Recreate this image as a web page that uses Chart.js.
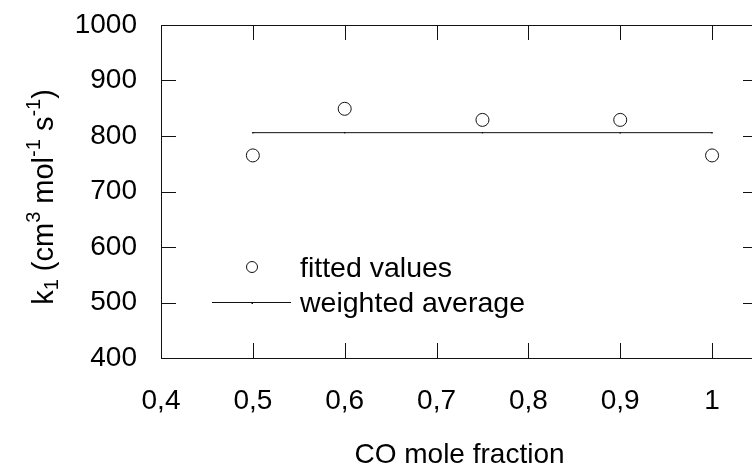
<!DOCTYPE html>
<html>
<head>
<meta charset="utf-8">
<script src="https://cdn.jsdelivr.net/npm/chart.js@4/dist/chart.umd.min.js"></script>
<style>
  html, body { margin: 0; padding: 0; background: #fff; overflow: hidden; }
  #wrap { position: absolute; left: 0; top: 0; width: 800px; height: 469px; }
</style>
</head>
<body>
<div id="wrap"><canvas id="kChart" width="800" height="469"></canvas></div>
<script>
// CO mole fraction of each fitted run
var moleFraction = [0.5, 0.6, 0.75, 0.9, 1.0];
// fitted k1 values (cm3 mol-1 s-1)
var fittedValues = [765, 849, 829, 829, 765];
// weighted average over all runs
var weightedAverage = [806, 806, 806, 806, 806];

var xTicks = [0.4, 0.5, 0.6, 0.7, 0.8, 0.9, 1.0];
var xTickLabels = ['0,4', '0,5', '0,6', '0,7', '0,8', '0,9', '1'];
var yTicks = [400, 500, 600, 700, 800, 900, 1000];

var FONT = '"Liberation Sans", Arial, sans-serif';
var INK = '#111';

function toPoints(xs, ys) {
    return xs.map(function(x, i) { return { x: x, y: ys[i] }; });
}

// frame with inward tick marks on all four sides
var framePlugin = {
    id: 'frame',
    beforeDatasetsDraw: function(chart) {
        var c = chart.ctx, a = chart.chartArea;
        var xs = chart.scales.x, ys = chart.scales.y;
        var len = 15;
        c.save();
        c.strokeStyle = INK;
        c.lineWidth = 1;
        c.beginPath();
        c.rect(Math.round(a.left) + 0.5, Math.round(a.top) + 0.5,
               Math.round(a.right - a.left), Math.round(a.bottom - a.top));
        xTicks.forEach(function(v) {
            var px = Math.round(xs.getPixelForValue(v)) + 0.5;
            c.moveTo(px, a.top); c.lineTo(px, a.top + len);
            c.moveTo(px, a.bottom); c.lineTo(px, a.bottom - len);
        });
        yTicks.forEach(function(v) {
            var py = Math.round(ys.getPixelForValue(v)) + 0.5;
            c.moveTo(a.left, py); c.lineTo(a.left + len, py);
            c.moveTo(a.right, py); c.lineTo(a.right - len, py);
        });
        c.stroke();
        c.restore();
    },
    afterDraw: function(chart) {
        var c = chart.ctx, a = chart.chartArea;
        c.save();
        c.fillStyle = '#000';

        // x title
        c.font = '28px ' + FONT;
        c.textAlign = 'center';
        c.textBaseline = 'alphabetic';
        c.fillText('CO mole fraction', (a.left + a.right) / 2, 463);

        // y title with sub/superscripts
        var parts = [
            ['k', 0], ['1', 1], [' (cm', 0], ['3', -1], [' mol', 0],
            ['-1', -1], [' s', 0], ['-1', -1], [')', 0]
        ];
        var big = '29px ' + FONT, small = '20px ' + FONT;
        var total = 0;
        parts.forEach(function(p) {
            c.font = p[1] ? small : big;
            total += c.measureText(p[0]).width;
        });
        c.translate(53, 197);
        c.rotate(-Math.PI / 2);
        c.textAlign = 'left';
        var x = -total / 2;
        parts.forEach(function(p) {
            c.font = p[1] ? small : big;
            var dy = p[1] > 0 ? 5 : (p[1] < 0 ? -13 : 0);
            c.fillText(p[0], x, dy);
            x += c.measureText(p[0]).width;
        });
        c.setTransform(1, 0, 0, 1, 0, 0);

        // legend
        var lx = a.left + 91;
        c.strokeStyle = INK;
        c.lineWidth = 1;
        c.beginPath();
        c.arc(lx, 267, 5.5, 0, Math.PI * 2);
        c.stroke();
        c.beginPath();
        c.moveTo(lx - 40, 302.5); c.lineTo(lx + 39, 302.5);
        c.stroke();
        c.fillStyle = INK;
        c.fillRect(lx - 0.5, 302, 1.5, 2);
        c.fillStyle = '#000';
        c.font = '28.5px ' + FONT;
        c.textAlign = 'left';
        c.textBaseline = 'middle';
        c.fillText(chart.data.datasets[0].label, a.left + 139, 269);
        c.fillText(chart.data.datasets[1].label, a.left + 139, 304);
        c.restore();
    }
};

new Chart(document.getElementById('kChart'), {
    type: 'scatter',
    data: {
        datasets: [{
            label: 'fitted values',
            data: toPoints(moleFraction, fittedValues),
            showLine: false,
            pointStyle: 'circle',
            pointRadius: 6.5,
            pointBorderWidth: 1,
            pointBorderColor: INK,
            pointBackgroundColor: 'rgba(0,0,0,0)',
            order: 0
        }, {
            label: 'weighted average',
            data: toPoints(moleFraction, weightedAverage),
            showLine: true,
            borderColor: INK,
            borderWidth: 1,
            pointStyle: 'rect',
            pointRadius: 1,
            pointBorderWidth: 0,
            pointBackgroundColor: INK,
            order: 1
        }]
    },
    options: {
        responsive: false,
        animation: false,
        layout: { padding: { top: 25, right: 42, left: 0, bottom: 0 } },
        plugins: {
            legend: { display: false },
            tooltip: { enabled: false }
        },
        scales: {
            x: {
                type: 'linear',
                min: 0.4,
                max: 1.05,
                grid: { display: false, drawTicks: false },
                border: { display: false },
                afterBuildTicks: function(s) {
                    s.ticks = xTicks.map(function(v) { return { value: v }; });
                },
                afterFit: function(s) {
                    s.height = 111;
                    s.paddingLeft = 0;
                    s.paddingRight = 0;
                },
                ticks: {
                    padding: 26,
                    color: '#000',
                    font: { family: FONT, size: 28 },
                    maxRotation: 0,
                    callback: function(v) {
                        var i = xTicks.indexOf(Math.round(v * 100) / 100);
                        return i >= 0 ? xTickLabels[i] : '';
                    }
                }
            },
            y: {
                min: 400,
                max: 1000,
                grid: { display: false, drawTicks: false },
                border: { display: false },
                afterBuildTicks: function(s) {
                    s.ticks = yTicks.map(function(v) { return { value: v }; });
                },
                afterFit: function(s) {
                    s.width = 161;
                    s.paddingTop = 0;
                    s.paddingBottom = 0;
                },
                ticks: {
                    padding: 24,
                    color: '#000',
                    font: { family: FONT, size: 28 },
                    callback: function(v) { return String(v); }
                }
            }
        }
    },
    plugins: [framePlugin]
});
</script>
</body>
</html>
